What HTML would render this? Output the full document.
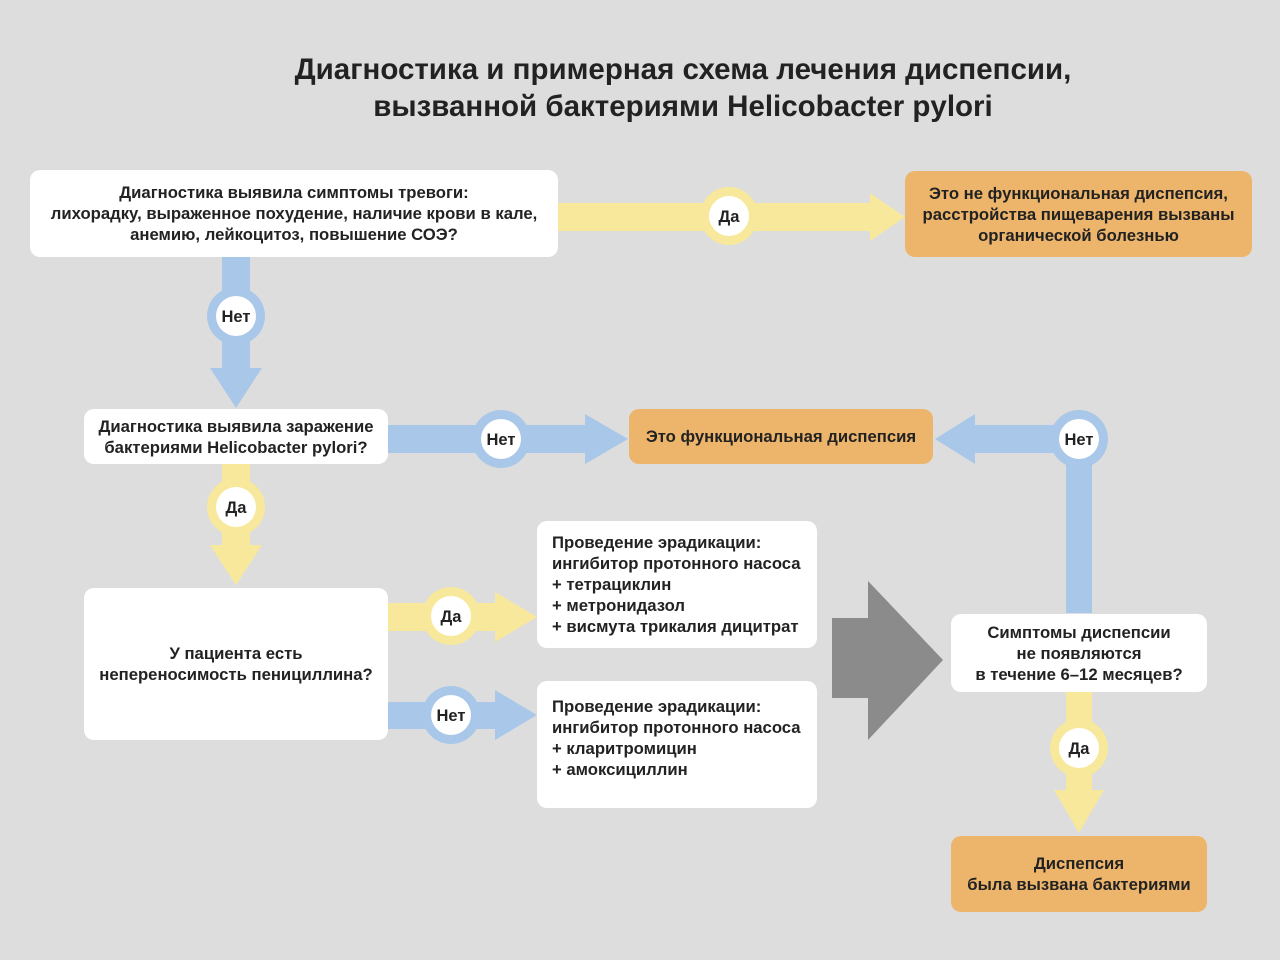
<!DOCTYPE html>
<html><head><meta charset="utf-8"><style>
body{margin:0;width:1280px;height:960px;background:#dddddd;position:relative;overflow:hidden;font-family:"Liberation Sans","DejaVu Sans",sans-serif;font-weight:bold;color:#222}
.b{position:absolute;background:#fff;border-radius:10px;display:flex;align-items:center;justify-content:center;text-align:center;font-size:16.7px;line-height:21px;white-space:nowrap}
.o{background:#edb56b}
.l{justify-content:flex-start;align-items:flex-start;text-align:left;padding:11px 0 0 15px;box-sizing:border-box}
svg{position:absolute;left:0;top:0}
.t{position:absolute;left:0;width:1366px;text-align:center;font-size:29.5px;line-height:37px;top:51px}
</style></head><body>
<svg width="1280" height="960">
<g fill="#f8e89b">
<polygon points="558,203 870,203 870,193 905,217 870,241 870,231 558,231"/>
<polygon points="222,464 250,464 250,545 262,545 236,585 210,545 222,545"/>
<polygon points="388,603 495,603 495,592 537,617 495,642 495,631 388,631"/>
<polygon points="1066,692 1092,692 1092,790 1104,790 1079,833 1054,790 1066,790"/>
</g>
<g fill="#a9c7e9">
<polygon points="222,257 250,257 250,368 262,368 236,408 210,368 222,368"/>
<polygon points="388,425 585,425 585,414 628,439 585,464 585,453 388,453"/>
<polygon points="1066,613 1092,613 1092,439 1092,425 975,425 975,414 935,439 975,464 975,453 1066,453"/>
<polygon points="388,702 495,702 495,690 537,715 495,740 495,729 388,729"/>
</g>
<polygon fill="#8b8b8b" points="832,618 868,618 868,581 943,660 868,740 868,698 832,698"/>
<g font-family="Liberation Sans, sans-serif" font-weight="bold" font-size="16.5" text-anchor="middle" fill="#222">
<circle cx="729" cy="216" r="29" fill="#f8e89b"/><circle cx="729" cy="216" r="20" fill="#fff"/><text x="729" y="222">Да</text>
<circle cx="236" cy="316" r="29" fill="#a9c7e9"/><circle cx="236" cy="316" r="20" fill="#fff"/><text x="236" y="322">Нет</text>
<circle cx="501" cy="439" r="29" fill="#a9c7e9"/><circle cx="501" cy="439" r="20" fill="#fff"/><text x="501" y="445">Нет</text>
<circle cx="1079" cy="439" r="29" fill="#a9c7e9"/><circle cx="1079" cy="439" r="20" fill="#fff"/><text x="1079" y="445">Нет</text>
<circle cx="236" cy="507" r="29" fill="#f8e89b"/><circle cx="236" cy="507" r="20" fill="#fff"/><text x="236" y="513">Да</text>
<circle cx="451" cy="616" r="29" fill="#f8e89b"/><circle cx="451" cy="616" r="20" fill="#fff"/><text x="451" y="622">Да</text>
<circle cx="451" cy="715" r="29" fill="#a9c7e9"/><circle cx="451" cy="715" r="20" fill="#fff"/><text x="451" y="721">Нет</text>
<circle cx="1079" cy="748" r="29" fill="#f8e89b"/><circle cx="1079" cy="748" r="20" fill="#fff"/><text x="1079" y="754">Да</text>
</g>
</svg>
<div class="t">Диагностика и примерная схема лечения диспепсии,<br>вызванной бактериями Helicobacter pylori</div>
<div class="b" style="left:30px;top:170px;width:528px;height:87px">Диагностика выявила симптомы тревоги:<br>лихорадку, выраженное похудение, наличие крови в кале,<br>анемию, лейкоцитоз, повышение СОЭ?</div>
<div class="b o" style="left:905px;top:171px;width:347px;height:86px">Это не функциональная диспепсия,<br>расстройства пищеварения вызваны<br>органической болезнью</div>
<div class="b" style="left:84px;top:409px;width:304px;height:55px">Диагностика выявила заражение<br>бактериями Helicobacter pylori?</div>
<div class="b o" style="left:629px;top:409px;width:304px;height:55px">Это функциональная диспепсия</div>
<div class="b" style="left:84px;top:588px;width:304px;height:152px">У пациента есть<br>непереносимость пенициллина?</div>
<div class="b l" style="left:537px;top:521px;width:280px;height:127px">Проведение эрадикации:<br>ингибитор протонного насоса<br>+ тетрациклин<br>+ метронидазол<br>+ висмута трикалия дицитрат</div>
<div class="b l" style="left:537px;top:681px;width:280px;height:127px;padding-top:15px">Проведение эрадикации:<br>ингибитор протонного насоса<br>+ кларитромицин<br>+ амоксициллин</div>
<div class="b" style="left:951px;top:614px;width:256px;height:78px">Симптомы диспепсии<br>не появляются<br>в течение 6–12 месяцев?</div>
<div class="b o" style="left:951px;top:836px;width:256px;height:76px">Диспепсия<br>была вызвана бактериями</div>
</body></html>
